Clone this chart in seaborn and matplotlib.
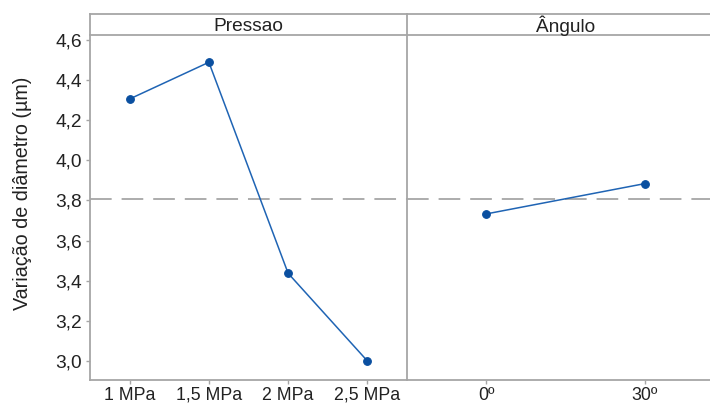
import numpy as np
import pandas as pd
import matplotlib
matplotlib.use("Agg")
import matplotlib.pyplot as plt
from matplotlib.ticker import FuncFormatter
import seaborn as sns

# Main-effects means for each factor
pressao_niveis = ["1 MPa", "1,5 MPa", "2 MPa", "2,5 MPa"]
pressao_medias = [4.306, 4.489, 3.437, 3.000]
angulo_niveis = ["0º", "30º"]
angulo_medias = [3.733, 3.884]
yticks = [3.0, 3.2, 3.4, 3.6, 3.8, 4.0, 4.2, 4.4, 4.6]

media_geral = float(np.mean(pressao_medias))

sns.set_theme(style="white")
plt.rcParams["font.family"] = ["Liberation Sans", "DejaVu Sans"]

TXT = "#222222"
GRID = "#a6a6a6"
LINE = "#1f64b4"
MARK = "#0a4fa0"

W, H = 710, 405
fig = plt.figure(figsize=(W / 100, H / 100), dpi=100)

def fx(px):
    return px / W

def fy(px):
    return (H - px) / H

panels = [
    ("Pressao", pressao_niveis, pressao_medias, 90),
    ("Ângulo", angulo_niveis, angulo_medias, 407),
]
pw = 317
top, strip_top, bottom = 35, 14, 380
ylo, yhi = 2.905, 4.625

for i, (titulo, niveis, medias, x0) in enumerate(panels):
    ax = fig.add_axes([fx(x0), fy(bottom), fx(pw), (bottom - top) / H])
    df = pd.DataFrame({"nivel": niveis, "media": medias})
    sns.pointplot(data=df, x="nivel", y="media", order=niveis, ax=ax,
                  color=LINE, markers="o", markersize=5.5, linewidth=1.1,
                  errorbar=None)
    for coll in ax.collections:
        coll.set_facecolor(MARK)
        coll.set_edgecolor(MARK)
    for ln in ax.lines:
        ln.set_markerfacecolor(MARK)
        ln.set_markeredgecolor(MARK)
    ax.axhline(media_geral, color=GRID, lw=1.3, ls=(0, (12, 5.5)), zorder=0)
    ax.set_xlim(-0.5, len(niveis) - 0.5)
    ax.set_ylim(ylo, yhi)
    ax.set_xlabel("")
    ax.set_ylabel("")
    for s in ["top", "right"]:
        ax.spines[s].set_visible(False)
    for s in ["left", "bottom"]:
        ax.spines[s].set_color(GRID)
        ax.spines[s].set_linewidth(1.3)
    ax.tick_params(axis="x", colors=GRID, labelcolor=TXT, labelsize=12.8,
                   length=3, width=1, pad=11.3, bottom=True)
    for lab in ax.get_xticklabels():
        lab.set_verticalalignment("baseline")
    if i == 0:
        ax.set_yticks(yticks)
        ax.yaxis.set_major_formatter(
            FuncFormatter(lambda v, p: f"{v:.1f}".replace(".", ",")))
        ax.tick_params(axis="y", colors=GRID, labelcolor=TXT, labelsize=13.8,
                       length=3, width=1, pad=3, left=True)
        ax.set_ylabel("Variação de diâmetro (µm)", fontsize=14.2, color=TXT)
        ax.yaxis.set_label_coords((32 - 90) / pw, (bottom - 193) / (bottom - top))
    else:
        ax.set_yticks([])

    # facet strip
    st = fig.add_axes([fx(x0), fy(top), fx(pw), (top - strip_top) / H])
    st.set_xticks([])
    st.set_yticks([])
    st.set_facecolor("white")
    st.spines["right"].set_visible(False)
    for s in ["top", "bottom", "left"]:
        st.spines[s].set_color(GRID)
        st.spines[s].set_linewidth(1.3)
    st.text(0.5, 0.42, titulo, ha="center", va="center", fontsize=13.8,
            color=TXT, transform=st.transAxes)

fig.savefig("out.png", dpi=100, facecolor="white")
